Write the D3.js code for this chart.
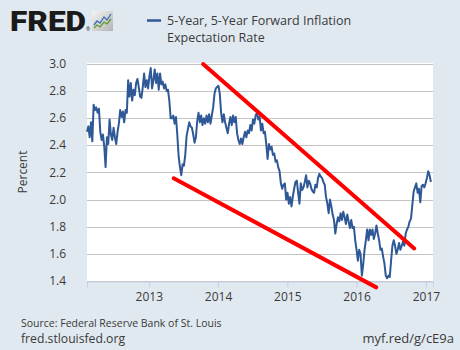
<!DOCTYPE html>
<html><head><meta charset="utf-8">
<script src="https://cdn.jsdelivr.net/npm/d3@7"></script>
<style>html,body{margin:0;padding:0;background:#e1e9f0;} svg{display:block;}</style>
</head><body><svg id="c" width="460" height="350"></svg>
<script>
// ---- data ----
const dates = [
"2012-02-10","2012-02-17","2012-02-24","2012-03-02","2012-03-09","2012-03-16","2012-03-23","2012-03-30","2012-04-06","2012-04-13","2012-04-20","2012-04-27","2012-05-04","2012-05-11","2012-05-18","2012-05-25","2012-06-01","2012-06-08","2012-06-15","2012-06-22","2012-06-29","2012-07-06","2012-07-13","2012-07-20","2012-07-27","2012-08-03","2012-08-10","2012-08-17","2012-08-24","2012-08-31","2012-09-07","2012-09-14","2012-09-21","2012-09-28","2012-10-05","2012-10-12","2012-10-19","2012-10-26","2012-11-02","2012-11-09","2012-11-16","2012-11-23","2012-11-30","2012-12-07","2012-12-14","2012-12-21","2012-12-28",
"2013-01-04","2013-01-11","2013-01-18","2013-01-25","2013-02-01","2013-02-08","2013-02-15","2013-02-22","2013-03-01","2013-03-08","2013-03-15","2013-03-22","2013-03-29","2013-04-05","2013-04-12","2013-04-19","2013-04-26","2013-05-03","2013-05-10","2013-05-17","2013-05-24","2013-05-31","2013-06-07","2013-06-14","2013-06-21","2013-06-28","2013-07-05","2013-07-12","2013-07-19","2013-07-26","2013-08-02","2013-08-09","2013-08-16","2013-08-23","2013-08-30","2013-09-06","2013-09-13","2013-09-20","2013-09-27","2013-10-04","2013-10-11","2013-10-18","2013-10-25","2013-11-01","2013-11-08","2013-11-15","2013-11-22","2013-11-29","2013-12-06","2013-12-13","2013-12-20","2013-12-27",
"2014-01-03","2014-01-10","2014-01-17","2014-01-24","2014-01-31","2014-02-07","2014-02-14","2014-02-21","2014-02-28","2014-03-07","2014-03-14","2014-03-21","2014-03-28","2014-04-04","2014-04-11","2014-04-18","2014-04-25","2014-05-02","2014-05-09","2014-05-16","2014-05-23","2014-05-30","2014-06-06","2014-06-13","2014-06-20","2014-06-27","2014-07-04","2014-07-11","2014-07-18","2014-07-25","2014-08-01","2014-08-08","2014-08-15","2014-08-22","2014-08-29","2014-09-05","2014-09-12","2014-09-19","2014-09-26","2014-10-03","2014-10-10","2014-10-17","2014-10-24","2014-10-31","2014-11-07","2014-11-14","2014-11-21","2014-11-28","2014-12-05","2014-12-12","2014-12-19","2014-12-26",
"2015-01-02","2015-01-09","2015-01-16","2015-01-23","2015-01-30","2015-02-06","2015-02-13","2015-02-20","2015-02-27","2015-03-06","2015-03-13","2015-03-20","2015-03-27","2015-04-03","2015-04-10","2015-04-17","2015-04-24","2015-05-01","2015-05-08","2015-05-15","2015-05-22","2015-05-29","2015-06-05","2015-06-12","2015-06-19","2015-06-26","2015-07-03","2015-07-10","2015-07-17","2015-07-24","2015-07-31","2015-08-07","2015-08-14","2015-08-21","2015-08-28","2015-09-04","2015-09-11","2015-09-18","2015-09-25","2015-10-02","2015-10-09","2015-10-16","2015-10-23","2015-10-30","2015-11-06","2015-11-13","2015-11-20","2015-11-27","2015-12-04","2015-12-11","2015-12-18","2015-12-25",
"2016-01-01","2016-01-08","2016-01-15","2016-01-22","2016-01-29","2016-02-05","2016-02-12","2016-02-19","2016-02-26","2016-03-04","2016-03-11","2016-03-18","2016-03-25","2016-04-01","2016-04-08","2016-04-15","2016-04-22","2016-04-29","2016-05-06","2016-05-13","2016-05-20","2016-05-27","2016-06-03","2016-06-10","2016-06-17","2016-06-24","2016-07-01","2016-07-08","2016-07-15","2016-07-22","2016-07-29","2016-08-05","2016-08-12","2016-08-19","2016-08-26","2016-09-02","2016-09-09","2016-09-16","2016-09-23","2016-09-30","2016-10-07","2016-10-14","2016-10-21","2016-10-28","2016-11-04","2016-11-11","2016-11-18","2016-11-25","2016-12-02","2016-12-09","2016-12-16","2016-12-23","2016-12-30",
"2017-01-06","2017-01-13","2017-01-20","2017-01-27","2017-02-03"
];
const values = [
2.50,2.54,2.46,2.57,2.43,2.70,2.66,2.68,2.64,2.67,2.50,2.44,2.48,2.39,2.24,2.46,2.41,2.59,2.48,2.44,2.53,2.46,2.41,2.50,2.56,2.66,2.61,2.65,2.57,2.66,2.64,2.88,2.76,2.86,2.73,2.81,2.77,2.86,2.89,2.83,2.76,2.75,2.83,2.93,2.83,2.88,2.82,2.91,2.97,2.82,2.88,2.96,2.86,2.93,2.81,
2.93,2.85,2.87,2.82,2.85,2.80,2.81,2.73,2.60,2.60,2.62,2.56,2.61,2.48,2.32,2.24,2.18,2.26,2.25,2.33,2.47,2.52,2.57,2.54,2.53,2.48,2.42,2.46,2.58,2.64,2.57,2.62,2.55,2.60,2.56,2.62,2.57,2.63,2.56,2.62,2.68,2.78,2.82,2.83,2.84,2.78,2.64,2.57,2.63,2.57,2.53,
2.49,2.56,2.61,2.55,2.62,2.57,2.61,2.49,2.44,2.41,2.45,2.41,2.46,2.50,2.46,2.51,2.49,2.55,2.51,2.59,2.56,2.62,2.64,2.59,2.61,2.51,2.56,2.49,2.50,2.41,2.30,2.41,2.37,2.39,2.33,2.34,2.28,2.29,2.24,2.21,2.12,2.08,2.11,2.12,2.00,2.05,1.97,2.02,1.95,2.02,2.08,2.13,2.14,
2.05,1.97,2.12,2.07,2.09,2.13,2.18,2.09,2.14,2.12,2.08,2.06,2.05,2.11,2.09,2.16,2.19,2.17,2.16,2.13,2.11,2.02,1.97,1.90,2.00,1.95,1.89,1.85,1.75,1.82,1.87,1.84,1.90,1.85,1.91,1.87,1.82,1.89,1.84,1.79,1.85,1.79,1.80,1.70,1.63,1.55,1.63,1.60,1.44,1.52,1.63,1.70,1.78,
1.70,1.78,1.74,1.78,1.71,1.75,1.81,1.75,1.70,1.63,1.64,1.58,1.53,1.44,1.42,1.44,1.43,1.55,1.66,1.70,1.66,1.60,1.63,1.68,1.63,1.66,1.69,1.66,1.75,1.78,1.80,1.84,1.86,1.96,2.06,2.09,2.12,2.05,2.08,1.98,2.10,2.11,2.09,2.12,2.16,2.21,2.18,2.13
];
const xDomain = ["2012-02-10","2017-02-07"];
const xTickLabels = ["2013","2014","2015","2016","2017"];
const yTicks = [1.4,1.6,1.8,2.0,2.2,2.4,2.6,2.8,3.0];
const yDomain = [1.4,3.0];
const upperTrendDates = ["2013-10-14","2016-10-31"];
const upperTrendValues = [3.0,1.64];
const lowerTrendDates = ["2013-05-12","2016-04-14"];
const lowerTrendValues = [2.157,1.353];
const seriesName = ["5-Year, 5-Year Forward Inflation","Expectation Rate"];

// ---- drawing ----
const parse = d3.timeParse("%Y-%m-%d");
const svg = d3.select("#c");
const M = {l:87, r:433, t:64, b:281};
const x = d3.scaleTime().domain(xDomain.map(parse)).range([M.l, M.r]);
const y = d3.scaleLinear().domain(yDomain).range([M.b, M.t]);
const font = "'Open Sans', sans-serif";
const txt = "#3a3a3a";
const lineCol = "#2f5896";

svg.append("rect").attr("width",460).attr("height",350).attr("fill","#e1e9f0");
svg.append("rect").attr("x",M.l).attr("y",M.t-1).attr("width",M.r-M.l).attr("height",M.b-M.t+1).attr("fill","#fff");

// gridlines
svg.append("g").selectAll("line").data(yTicks).join("line")
  .attr("x1",M.l).attr("x2",M.r)
  .attr("y1",d=>Math.round(y(d))+0.5).attr("y2",d=>Math.round(y(d))+0.5)
  .attr("stroke","#c4c4c4").attr("stroke-width",1);

// y labels
svg.append("g").selectAll("text").data(yTicks).join("text")
  .attr("x",66).attr("y",d=>y(d)+4)
  .attr("text-anchor","end").attr("font-family",font).attr("font-size",12).attr("fill",txt)
  .text(d3.format(".1f"));

// x axis
const xAxis = d3.axisBottom(x)
  .tickValues(xTickLabels.map(s=>parse(s+"-01-01")))
  .tickFormat(d3.timeFormat("%Y")).tickSize(6).tickPadding(5);
const gx = svg.append("g").attr("transform",`translate(0,${M.b+0.5})`).call(xAxis);
gx.select(".domain").attr("stroke","#c6d2e2");
gx.selectAll(".tick line").attr("stroke","#c6d2e2");
gx.selectAll(".tick text").attr("font-family",font).attr("font-size",12).attr("fill",txt);

// y title
svg.append("text").attr("transform","translate(27,172) rotate(-90)")
  .attr("text-anchor","middle").attr("font-family",font).attr("font-size",12).attr("fill",txt)
  .text("Percent");

// series
const data = dates.map((d,i)=>({date:parse(d), value:values[i]}));
svg.append("path").datum(data)
  .attr("d", d3.line().x(d=>x(d.date)).y(d=>y(d.value)))
  .attr("fill","none").attr("stroke",lineCol).attr("stroke-width",2).attr("stroke-linejoin","round");

// trend lines
function trend(ds, vs){
  const pts = ds.map((d,i)=>({date:parse(d), value:vs[i]}));
  svg.append("path").datum(pts)
    .attr("d", d3.line().x(d=>x(d.date)).y(d=>y(d.value)))
    .attr("fill","none").attr("stroke","#ff0000").attr("stroke-width",4).attr("stroke-linecap","round");
}
trend(upperTrendDates, upperTrendValues);
trend(lowerTrendDates, lowerTrendValues);

// legend
svg.append("line").attr("x1",147).attr("x2",161).attr("y1",20.5).attr("y2",20.5)
  .attr("stroke",lineCol).attr("stroke-width",2.5);
svg.append("text").attr("x",167).attr("y",25).attr("font-family",font).attr("font-size",12.5).attr("fill",txt).text(seriesName[0]);
svg.append("text").attr("x",167).attr("y",42).attr("font-family",font).attr("font-size",12.5).attr("fill",txt).text(seriesName[1]);

// FRED logo
svg.append("text").attr("x",10).attr("y",31).attr("font-family","Roboto, 'DejaVu Sans', sans-serif")
  .attr("font-weight",900).attr("font-size",27).attr("fill","#1a1a1a")
  .attr("textLength",76).attr("lengthAdjust","spacingAndGlyphs").text("FRED");
svg.append("text").attr("x",86).attr("y",31).attr("font-family",font).attr("font-size",5).attr("fill","#1a1a1a").text("®");
const defs = svg.append("defs");
const gr = defs.append("linearGradient").attr("id","lg").attr("x1",0).attr("y1",0).attr("x2",1).attr("y2",1);
gr.append("stop").attr("offset",0).attr("stop-color","#f4f4f4");
gr.append("stop").attr("offset",1).attr("stop-color","#b4b4b4");
svg.append("rect").attr("x",92).attr("y",11).attr("width",21).attr("height",20).attr("fill","url(#lg)");
svg.append("polyline").attr("points","94,25 97,21 100,23 104,17 107,20 111,14")
  .attr("fill","none").attr("stroke","#3d6db3").attr("stroke-width",1.3);
svg.append("polyline").attr("points","94,28 97,25 100,27 104,22 107,24 111,19")
  .attr("fill","none").attr("stroke","#5b9b2e").attr("stroke-width",1.3);

// footer
svg.append("text").attr("x",21).attr("y",327).attr("font-family",font).attr("font-size",10.5).attr("fill",txt)
  .text("Source: Federal Reserve Bank of St. Louis");
svg.append("text").attr("x",21).attr("y",343).attr("font-family",font).attr("font-size",12.2).attr("fill",txt)
  .text("fred.stlouisfed.org");
svg.append("text").attr("x",454).attr("y",343).attr("text-anchor","end").attr("font-family",font).attr("font-size",13).attr("fill",txt)
  .text("myf.red/g/cE9a");
</script></body></html>
